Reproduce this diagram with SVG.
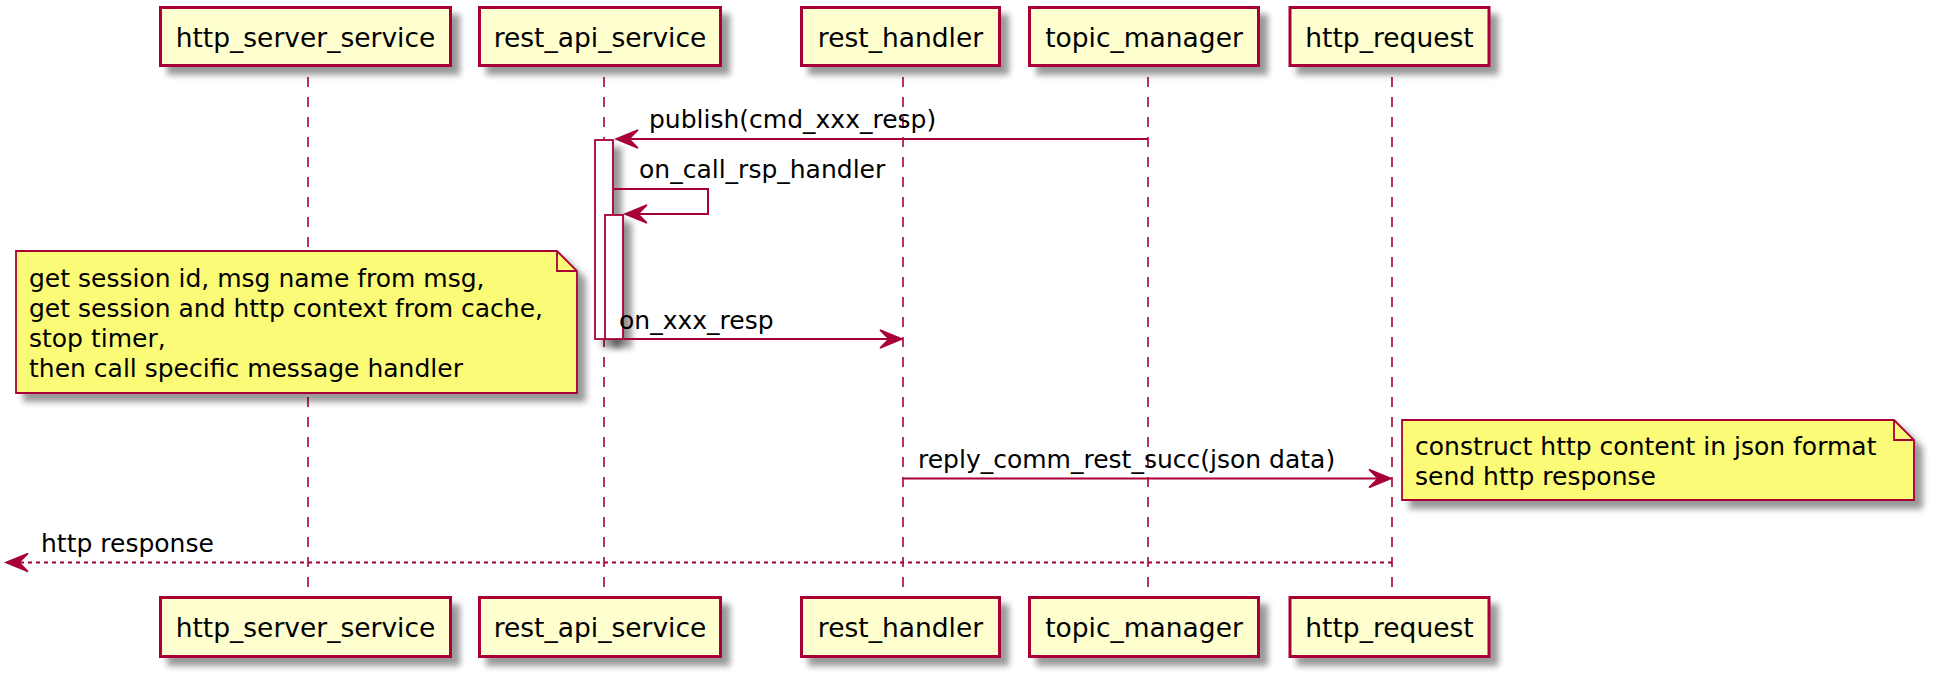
<svg xmlns="http://www.w3.org/2000/svg" width="1936" height="677" viewBox="0 0 1936 677">
<style>
.pbox{fill:#FEFECE;stroke:#A80036;stroke-width:3}
.ptxt{font-family:"DejaVu Sans",sans-serif;font-size:26.5px;fill:#000;text-anchor:middle}
.life{stroke:#A80036;stroke-width:1.6;stroke-dasharray:10,10;fill:none}
.act{fill:#FFFFFF;stroke:#A80036;stroke-width:1.8}
.msg{stroke:#A80036;stroke-width:2;fill:none}
.dot{stroke:#A80036;stroke-width:2;fill:none;stroke-dasharray:4,4}
.head{fill:#A80036;stroke:#A80036;stroke-width:1.5}
.mtxt{font-family:"DejaVu Sans",sans-serif;font-size:25px;fill:#000}
.note{fill:#FBFB77;stroke:#A80036;stroke-width:1.8}
.fold{fill:none;stroke:#A80036;stroke-width:1.8}
</style>
<defs>
<filter id="sh" filterUnits="userSpaceOnUse" x="0" y="0" width="1936" height="677">
<feGaussianBlur in="SourceAlpha" stdDeviation="3"/>
<feOffset dx="8" dy="8"/>
<feComponentTransfer><feFuncA type="linear" slope="0.4"/></feComponentTransfer>
<feMerge><feMergeNode/><feMergeNode in="SourceGraphic"/></feMerge>
</filter>
</defs>
<rect x="0" y="0" width="1936" height="677" fill="#FFFFFF"/>

<g id="lifelines">
<line class="life" x1="308" y1="77" x2="308" y2="596"/>
<line class="life" x1="604" y1="77" x2="604" y2="596"/>
<line class="life" x1="903" y1="77" x2="903" y2="596"/>
<line class="life" x1="1148" y1="77" x2="1148" y2="596"/>
<line class="life" x1="1392" y1="77" x2="1392" y2="596"/>
</g>

<g id="p_http_server_service">
<rect class="pbox" x="160.5" y="7.5" width="290" height="58" filter="url(#sh)"/>
<text class="ptxt" x="305.5" y="47">http_server_service</text>
<rect class="pbox" x="160.5" y="597.5" width="290" height="59" filter="url(#sh)"/>
<text class="ptxt" x="305.5" y="637">http_server_service</text>
</g>
<g id="p_rest_api_service">
<rect class="pbox" x="479.5" y="7.5" width="241" height="58" filter="url(#sh)"/>
<text class="ptxt" x="600" y="47">rest_api_service</text>
<rect class="pbox" x="479.5" y="597.5" width="241" height="59" filter="url(#sh)"/>
<text class="ptxt" x="600" y="637">rest_api_service</text>
</g>
<g id="p_rest_handler">
<rect class="pbox" x="801.5" y="7.5" width="198" height="58" filter="url(#sh)"/>
<text class="ptxt" x="900.5" y="47">rest_handler</text>
<rect class="pbox" x="801.5" y="597.5" width="198" height="59" filter="url(#sh)"/>
<text class="ptxt" x="900.5" y="637">rest_handler</text>
</g>
<g id="p_topic_manager">
<rect class="pbox" x="1029.5" y="7.5" width="229" height="58" filter="url(#sh)"/>
<text class="ptxt" x="1144" y="47">topic_manager</text>
<rect class="pbox" x="1029.5" y="597.5" width="229" height="59" filter="url(#sh)"/>
<text class="ptxt" x="1144" y="637">topic_manager</text>
</g>
<g id="p_http_request">
<rect class="pbox" x="1290" y="7.5" width="199" height="58" filter="url(#sh)"/>
<text class="ptxt" x="1389.5" y="47">http_request</text>
<rect class="pbox" x="1290" y="597.5" width="199" height="59" filter="url(#sh)"/>
<text class="ptxt" x="1389.5" y="637">http_request</text>
</g>

<g id="activations">
<rect class="act" x="595" y="140" width="18" height="199" filter="url(#sh)"/>
<rect class="act" x="605" y="215" width="18" height="124" filter="url(#sh)"/>
</g>

<g id="note_session">
<path class="note" d="M16,251 L557,251 L577,271 L577,393 L16,393 Z" filter="url(#sh)"/>
<path class="fold" d="M557,251 L557,271 L577,271"/>
<text class="mtxt" x="29" y="287">get session id, msg name from msg,</text>
<text class="mtxt" x="29" y="317">get session and http context from cache,</text>
<text class="mtxt" x="29" y="347">stop timer,</text>
<text class="mtxt" x="29" y="377">then call specific message handler</text>
</g>

<g id="note_http">
<path class="note" d="M1402,420 L1894,420 L1914,440 L1914,500 L1402,500 Z" filter="url(#sh)"/>
<path class="fold" d="M1894,420 L1894,440 L1914,440"/>
<text class="mtxt" x="1415" y="455">construct http content in json format</text>
<text class="mtxt" x="1415" y="485">send http response</text>
</g>

<g id="connectors">
<line class="msg" x1="1148" y1="139" x2="620" y2="139"/>
<polygon class="head" points="616,139 638,130 629,139 638,148"/>
<polyline class="msg" points="614,189 708,189 708,214 629,214"/>
<polygon class="head" points="625,214 647,205 638,214 647,223"/>
<line class="msg" x1="624" y1="339" x2="898" y2="339"/>
<polygon class="head" points="902,339 880,330 889,339 880,348"/>
<line class="msg" x1="903" y1="478.5" x2="1387" y2="478.5"/>
<polygon class="head" points="1391,478.5 1369,469.5 1378,478.5 1369,487.5"/>
<line class="dot" x1="1392" y1="562.5" x2="12" y2="562.5"/>
<polygon class="head" points="6,562.5 28,553.5 19,562.5 28,571.5"/>
<text class="mtxt" x="649" y="128">publish(cmd_xxx_resp)</text>
<text class="mtxt" x="639" y="178">on_call_rsp_handler</text>
<text class="mtxt" x="619" y="329">on_xxx_resp</text>
<text class="mtxt" x="918" y="468">reply_comm_rest_succ(json data)</text>
<text class="mtxt" x="41" y="552">http response</text>
</g>
</svg>
